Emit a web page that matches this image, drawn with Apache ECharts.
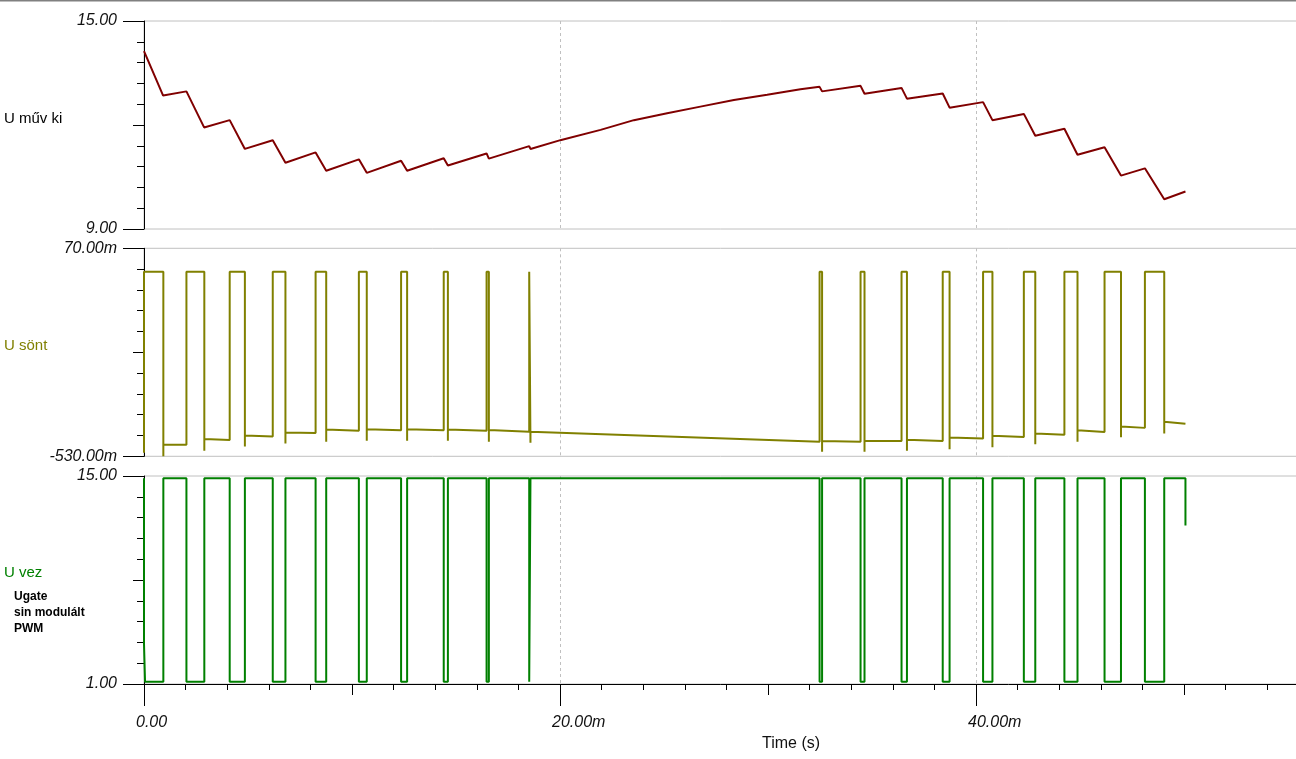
<!DOCTYPE html>
<html>
<head>
<meta charset="utf-8">
<title>Ugate sin modulált PWM</title>
<script src="https://cdn.jsdelivr.net/npm/echarts@6/dist/echarts.min.js"></script>
<style>
html,body{margin:0;padding:0;background:#fff;}
#main{width:1296px;height:759px;}
</style>
</head>
<body>
<div id="main"></div>
<script>
// idő ms-ban

// U műv ki (V)
var muvT = [0, 0.92, 2.04, 2.89, 4.12, 4.85, 6.19, 6.80, 8.25, 8.76, 10.33, 10.71, 12.36, 12.65, 14.41, 14.61,
	16.47, 16.58, 18.52, 18.58, 20.06, 21.95, 23.55, 25.15, 26.75, 28.36, 29.96, 31.56, 32.48, 32.60,
	34.45, 34.64, 36.42, 36.68, 38.40, 38.73, 40.34, 40.79, 42.30, 42.85, 44.25, 44.88, 46.18, 46.97,
	48.12, 49.05, 50.07];
var muvV = [14.13, 12.85, 12.97, 11.93, 12.14, 11.31, 11.56, 10.91, 11.21, 10.68, 11.01, 10.62, 10.97, 10.68, 11.04, 10.83,
	11.18, 11.03, 11.39, 11.31, 11.57, 11.86, 12.14, 12.34, 12.53, 12.72, 12.87, 13.03, 13.10, 12.97,
	13.13, 12.90, 13.07, 12.76, 12.91, 12.50, 12.66, 12.14, 12.32, 11.69, 11.89, 11.14, 11.36, 10.54,
	10.75, 9.86, 10.08];

// PWM kikapcsolt szakaszok (gate alacsony, sönt ~0)
var offStart = [0, 2.04, 4.12, 6.19, 8.25, 10.33, 12.36, 14.41, 16.47, 18.52, 32.48, 34.45, 36.42, 38.40, 40.34, 42.30, 44.25, 46.18, 48.12];
var offEnd = [0.93, 2.90, 4.85, 6.80, 8.76, 10.71, 12.65, 14.61, 16.58, 18.58, 32.60, 34.64, 36.68, 38.73, 40.79, 42.85, 44.88, 46.97, 49.05];
var endT = 50.07;

// U sönt (mV)
var sontFirst = -520;
var sontHigh = 2.5;
var sontSpike = [-530, -514, -502, -493, -488, -485, -485, -485, -488, -491, -517, -517, -514, -510, -504, -495, -488, -475, -464];
var sontLowA = [-497, -480, -470, -461, -453, -452, -452, -453, -454, -459, -486, -486, -482, -476, -471, -464, -455, -444, -430];
var sontLowB = [-497, -483, -473, -463, -456, -455, -455, -456, -459, -488, -488, -486, -486, -479, -474, -468, -460, -448, -436];

// U vez (V)
var vezHigh = 14.85;
var vezLow = 1.15;
var vezStart = 3.7;
var vezEnd = 11.66;

// tengely osztások
var xMajor = [0, 20, 40];
var xMid = [10, 30, 50];
var xMinor = [2, 4, 6, 8, 12, 14, 16, 18, 22, 24, 26, 28, 32, 34, 36, 38, 42, 44, 46, 48, 52, 54];
var muvMajor = [9, 15], muvMid = [12], muvMinor = [9.6, 10.2, 10.8, 11.4, 12.6, 13.2, 13.8, 14.4];
var sontMajor = [-530, 70], sontMid = [-230], sontMinor = [-470, -410, -350, -290, -170, -110, -50, 10];
var vezMajor = [1, 15], vezMid = [8], vezMinor = [2.4, 3.8, 5.2, 6.6, 9.4, 10.8, 12.2, 13.6];

var GRID_W = 1160;
var X_MAX = GRID_W / 20.8;
var FONT = '"Liberation Sans", Arial, sans-serif';

function buildMuv() {
	var d = [];
	for (var i = 0; i < muvT.length; i++) d.push([muvT[i], muvV[i]]);
	return d;
}

function buildSont() {
	var d = [[0, sontFirst]];
	for (var k = 0; k < offStart.length; k++) {
		if (k > 0) d.push([offStart[k], sontLowB[k - 1]]);
		d.push([offStart[k], sontHigh]);
		d.push([offEnd[k], sontHigh]);
		d.push([offEnd[k], sontSpike[k]]);
		d.push([offEnd[k], sontLowA[k]]);
	}
	d.push([endT, sontLowB[sontLowB.length - 1]]);
	return d;
}

function buildVez() {
	var d = [[0, vezHigh], [0, vezStart], [0.05, vezLow]];
	for (var k = 0; k < offStart.length; k++) {
		if (k > 0) {
			d.push([offStart[k], vezHigh]);
			d.push([offStart[k], vezLow]);
		}
		d.push([offEnd[k], vezLow]);
		d.push([offEnd[k], vezHigh]);
	}
	d.push([endT, vezHigh]);
	d.push([endT, vezEnd]);
	return d;
}

var tops = [21, 248.3, 476];

function grid(i) {
	return {
		left: 144, top: tops[i], width: GRID_W, height: 208,
		outerBoundsMode: 'none',
		show: true, borderColor: '#c0c0c0', borderWidth: 1, backgroundColor: 'transparent'
	};
}

// x tengely: csak szaggatott függőleges rácsvonal a felső paneleken
function xGridAxis(i) {
	return {
		type: 'value', gridIndex: i, min: 0, max: X_MAX, interval: 20,
		axisLine: {show: false}, axisTick: {show: false}, axisLabel: {show: false},
		splitLine: {show: true, lineStyle: {color: '#c0c0c0', type: [3, 3], width: 1}}
	};
}

function xTickAxis(vals, len) {
	return {
		type: 'value', gridIndex: 2, min: 0, max: X_MAX, position: 'bottom',
		axisLine: {show: false},
		axisTick: {show: true, customValues: vals, length: len, lineStyle: {color: '#000'}},
		axisLabel: {show: false}, splitLine: {show: false}
	};
}

function yTickAxis(i, mn, mx, vals, len) {
	return {
		type: 'value', gridIndex: i, min: mn, max: mx, position: 'left',
		axisLine: {show: false, onZero: false},
		axisTick: {show: true, customValues: vals, length: len, lineStyle: {color: '#000'}},
		axisLabel: {show: false}, splitLine: {show: false}
	};
}

function yMainAxis(i, mn, mx, vals, unit) {
	return {
		type: 'value', gridIndex: i, min: mn, max: mx, position: 'left',
		axisLine: {show: true, onZero: false, lineStyle: {color: '#000', width: 1}},
		axisTick: {show: true, customValues: vals, length: 21, lineStyle: {color: '#000'}},
		axisLabel: {
			show: true, customValues: vals, margin: 27,
			color: '#111', fontFamily: FONT, fontStyle: 'italic', fontSize: 16,
			formatter: function(v) { return v.toFixed(2) + unit; }
		},
		splitLine: {show: false}
	};
}

var option = {
	animation: false,
	backgroundColor: '#fff',
	grid: [grid(0), grid(1), grid(2)],
	xAxis: [
		xGridAxis(0),
		xGridAxis(1),
		{
			type: 'value', gridIndex: 2, min: 0, max: X_MAX, position: 'bottom',
			axisLine: {show: true, onZero: false, lineStyle: {color: '#000', width: 1}},
			axisTick: {show: true, customValues: xMajor, length: 22, lineStyle: {color: '#000'}},
			axisLabel: {
				show: true, customValues: xMajor, margin: 31, align: 'left', padding: [0, 0, 0, -8],
				color: '#111', fontFamily: FONT, fontStyle: 'italic', fontSize: 16,
				formatter: function(v) { return v === 0 ? '0.00' : v.toFixed(2) + 'm'; }
			},
			splitLine: {show: true, lineStyle: {color: '#c0c0c0', type: [3, 3], width: 1}}
		},
		xTickAxis(xMid, 11),
		xTickAxis(xMinor, 6)
	],
	yAxis: [
		yMainAxis(0, 9, 15, muvMajor, ''),
		yTickAxis(0, 9, 15, muvMid, 11),
		yTickAxis(0, 9, 15, muvMinor, 7),
		yMainAxis(1, -530, 70, sontMajor, 'm'),
		yTickAxis(1, -530, 70, sontMid, 11),
		yTickAxis(1, -530, 70, sontMinor, 7),
		yMainAxis(2, 1, 15, vezMajor, ''),
		yTickAxis(2, 1, 15, vezMid, 11),
		yTickAxis(2, 1, 15, vezMinor, 7)
	],
	graphic: [
		{type: 'rect', left: 0, top: 0, shape: {width: 1296, height: 1.5}, style: {fill: '#808080'}},
		{type: 'text', x: 4, y: 119, style: {text: 'U műv ki', fill: '#000', font: '15px ' + FONT, verticalAlign: 'middle'}},
		{type: 'text', x: 4, y: 346, style: {text: 'U sönt', fill: '#808000', font: '15px ' + FONT, verticalAlign: 'middle'}},
		{type: 'text', x: 4, y: 573, style: {text: 'U vez', fill: '#008000', font: '15px ' + FONT, verticalAlign: 'middle'}},
		{type: 'text', x: 14, y: 597, style: {text: 'Ugate', fill: '#000', font: 'bold 12px ' + FONT, verticalAlign: 'middle'}},
		{type: 'text', x: 14, y: 613, style: {text: 'sin modulált', fill: '#000', font: 'bold 12px ' + FONT, verticalAlign: 'middle'}},
		{type: 'text', x: 14, y: 629, style: {text: 'PWM', fill: '#000', font: 'bold 12px ' + FONT, verticalAlign: 'middle'}},
		{type: 'text', x: 791, y: 744, style: {text: 'Time (s)', fill: '#111', font: '16px ' + FONT, align: 'center', verticalAlign: 'middle'}}
	],
	series: [
		{
			name: 'U műv ki', type: 'line', xAxisIndex: 0, yAxisIndex: 0,
			data: buildMuv(), showSymbol: false, symbol: 'none',
			lineStyle: {color: '#800000', width: 2}
		},
		{
			name: 'U sönt', type: 'line', xAxisIndex: 1, yAxisIndex: 3,
			data: buildSont(), showSymbol: false, symbol: 'none',
			lineStyle: {color: '#808000', width: 2}
		},
		{
			name: 'U vez', type: 'line', xAxisIndex: 2, yAxisIndex: 6,
			data: buildVez(), showSymbol: false, symbol: 'none',
			lineStyle: {color: '#008000', width: 2}
		}
	]
};

var myChart = echarts.init(document.getElementById('main'));
myChart.setOption(option);
</script>
</body>
</html>
